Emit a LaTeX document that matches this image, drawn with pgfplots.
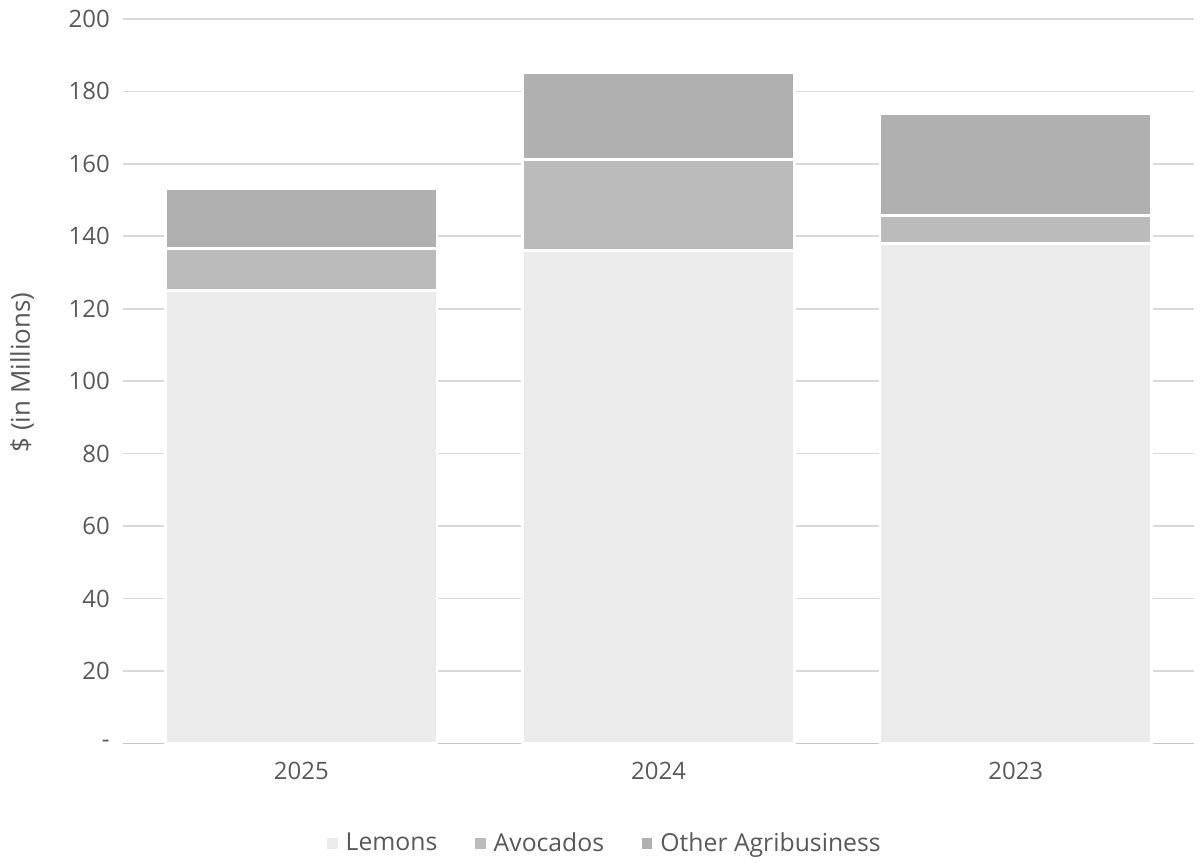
\documentclass[border=0pt]{standalone}
\usepackage{pgfplots}
\pgfplotsset{compat=1.18}
\usepackage{fontspec}
\setmainfont{Open Sans}
\definecolor{txt}{HTML}{595959}
\definecolor{gridc}{HTML}{D9D9D9}
\definecolor{lemc}{HTML}{EBEBEB}
\definecolor{avoc}{HTML}{BBBBBB}
\definecolor{othc}{HTML}{B0B0B0}
\begin{document}
\begin{tikzpicture}
\begin{axis}[
  scale only axis,
  width=537pt, height=363pt,
  ybar stacked,
  bar width=0.76,
  xmin=-0.5, xmax=2.5,
  ymin=0, ymax=200,
  xtick={0,1,2},
  xticklabels={2025,2024,2023},
  ytick={0,20,...,200},
  yticklabels={-,20,40,60,80,100,120,140,160,180,200},
  font=\fontsize{12}{14}\selectfont,
  tick label style={text=txt},
  separate axis lines,
  axis x line*=bottom,
  axis y line*=left,
  y axis line style={draw=none},
  x axis line style={draw=gray!45, line width=0.8pt},
  ytick style={draw=none},
  major x tick style={draw=none},
  extra x ticks={-0.5,0.5,1.5,2.5},
  extra x tick labels={},
  extra x tick style={tick align=outside, major tick length=4pt, tick style={draw=gray!45, line width=0.8pt}, grid=none},
  ymajorgrids,
  grid style={draw=gridc, line width=0.8pt},
  yticklabel style={xshift=-3pt},
  xticklabel style={yshift=-6pt},
  ylabel={\$ (in Millions)},
  every axis y label/.style={at={(axis description cs:-0.094,0.512)}, rotate=90, anchor=center, text=txt, font=\fontsize{13}{15}\selectfont},
  legend style={at={(axis description cs:0.451,-0.138)}, anchor=center, draw=none, legend columns=-1, text=txt, font=\fontsize{12.4}{14}\selectfont, /tikz/every even column/.append style={column sep=17pt}, /tikz/every odd column/.append style={column sep=2pt}},
  legend image code/.code={\fill[#1, draw=none] (0pt,-2.6pt) rectangle (5.2pt,2.6pt);},
]
\addplot[fill=lemc, draw=white, line width=1.4pt] coordinates {(0,125.1) (1,136.1) (2,138.0)};
\addplot[fill=avoc, draw=white, line width=1.4pt] coordinates {(0,11.5) (1,25.1) (2,7.7)};
\addplot[fill=othc, draw=white, line width=1.4pt] coordinates {(0,16.6) (1,23.9) (2,28.1)};
\legend{Lemons, Avocados, Other Agribusiness}
\end{axis}
\path[use as bounding box] (-61.5pt,-57.5pt) rectangle (539pt,372.5pt);
\end{tikzpicture}
\end{document}
